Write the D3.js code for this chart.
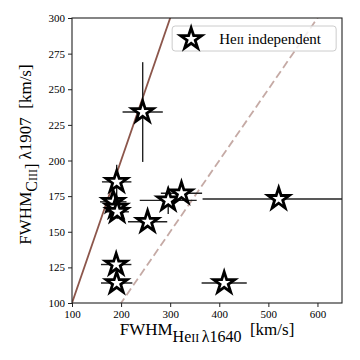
<!DOCTYPE html>
<html>
<head>
<meta charset="utf-8">
<script src="https://cdn.jsdelivr.net/npm/d3@7"></script>
<style>
body{margin:0;background:#fff;}
svg text{font-family:"Liberation Serif","DejaVu Serif",serif;fill:#000;}
</style>
</head>
<body>
<div id="chart"></div>
<script>
// FWHM He II vs C III] measurements
var fwhmHe   = [244, 191, 184, 190, 192, 254, 296, 323, 521, 190, 191, 410];
var fwhmHeEr = [41, 30, 27, 25, 24, 40, 58, 42, 155, 31, 32, 46];
var fwhmC    = [234, 185, 171, 167, 164, 157, 172, 177, 173, 127, 114, 114];
var fwhmCEr  = [35, 12, 5, 6, 5, 3, 9.5, 4, 3, 2, 2, 2];

var xTicks = [100, 200, 300, 400, 500, 600];
var yTicks = [100, 125, 150, 175, 200, 225, 250, 275, 300];

var serif = '"Liberation Serif","DejaVu Serif",serif';

var m = {t:18, r:18, b:57, l:72},
    W = 360, H = 360,
    w = W - m.l - m.r,
    h = H - m.t - m.b;

var svg = d3.select('#chart').append('svg')
    .attr('width', W).attr('height', H);

var x = d3.scaleLinear().domain([100, 650]).range([0, w]);
var y = d3.scaleLinear().domain([100, 300]).range([h, 0]);

var plot = svg.append('g')
    .attr('transform', 'translate(' + m.l + ',' + m.t + ')');

svg.append('defs').append('clipPath').attr('id', 'clip')
    .append('rect').attr('width', w).attr('height', h);

var inner = plot.append('g').attr('clip-path', 'url(#clip)');

// 1:1 and 1:2 lines
var lineX = [100, 650];
var line = d3.line().x(function(d){ return x(d[0]); }).y(function(d){ return y(d[1]); });

inner.append('path')
    .datum(lineX.map(function(v){ return [v, v]; }))
    .attr('d', line)
    .attr('fill', 'none').attr('stroke', '#8c564b').attr('stroke-width', 1.8);

inner.append('path')
    .datum(lineX.map(function(v){ return [v, v / 2]; }))
    .attr('d', line)
    .attr('fill', 'none').attr('stroke', '#8c564b').attr('stroke-opacity', 0.5)
    .attr('stroke-width', 1.8).attr('stroke-dasharray', '8,4');

var pts = fwhmHe.map(function(v, i){
    return {x: v, xe: fwhmHeEr[i], y: fwhmC[i], ye: fwhmCEr[i]};
});

// error bars
inner.selectAll('.xerr').data(pts).enter().append('line').attr('class', 'xerr')
    .attr('x1', function(d){ return x(d.x - d.xe); })
    .attr('x2', function(d){ return x(d.x + d.xe); })
    .attr('y1', function(d){ return y(d.y); })
    .attr('y2', function(d){ return y(d.y); })
    .attr('stroke', '#222').attr('stroke-width', 1.4);

inner.selectAll('.yerr').data(pts).enter().append('line').attr('class', 'yerr')
    .attr('x1', function(d){ return x(d.x); })
    .attr('x2', function(d){ return x(d.x); })
    .attr('y1', function(d){ return y(d.y - d.ye); })
    .attr('y2', function(d){ return y(d.y + d.ye); })
    .attr('stroke', '#222').attr('stroke-width', 1.4);

var star = d3.symbol().type(d3.symbolStar).size(140);

inner.selectAll('.star').data(pts).enter().append('path').attr('class', 'star')
    .attr('d', star)
    .attr('transform', function(d){ return 'translate(' + x(d.x) + ',' + y(d.y) + ')'; })
    .attr('fill', '#fff').attr('stroke', '#000').attr('stroke-width', 2.8)
    .attr('stroke-linejoin', 'miter');

// axes
var xAxis = plot.append('g').attr('transform', 'translate(0,' + h + ')')
    .call(d3.axisBottom(x).tickValues(xTicks).tickSize(4).tickPadding(3));
var yAxis = plot.append('g')
    .call(d3.axisLeft(y).tickValues(yTicks).tickSize(4).tickPadding(3));

[xAxis, yAxis].forEach(function(a){
    a.attr('font-family', serif);
    a.select('.domain').remove();
    a.selectAll('line').attr('stroke', '#222');
    a.selectAll('text').style('font-family', serif)
        .style('font-size', '11px').attr('fill', '#000');
});

plot.append('rect').attr('width', w).attr('height', h)
    .attr('fill', 'none').attr('stroke', '#222').attr('stroke-width', 1.1);

// legend
var leg = plot.append('g');
leg.append('rect')
    .attr('x', x(304)).attr('y', 8).attr('width', 164).attr('height', 25)
    .attr('rx', 3).attr('fill', '#fff').attr('fill-opacity', 0.8)
    .attr('stroke', '#ccc').attr('stroke-width', 1);
leg.append('path').attr('d', star)
    .attr('transform', 'translate(' + (x(304) + 19) + ',21)')
    .attr('fill', '#fff').attr('stroke', '#000').attr('stroke-width', 2.8);
var lt = leg.append('text').attr('x', x(304) + 47).attr('y', 25.5)
    .style('font-family', serif).style('font-size', '15px');
lt.append('tspan').text('He');
lt.append('tspan').style('font-size', '11px').text('II');
lt.append('tspan').text(' independent');

// axis labels
var xl = svg.append('text')
    .attr('x', m.l + w / 2).attr('y', 335)
    .attr('text-anchor', 'middle').style('font-family', serif).style('font-size', '17px');
xl.append('tspan').text('FWHM');
xl.append('tspan').attr('dy', 7).style('font-size', '16px').text('He');
xl.append('tspan').style('font-size', '12px').text('II\u2009');
xl.append('tspan').style('font-size', '16px').text('\u03bb1640');
xl.append('tspan').attr('dy', -7).text('\u2002[km/s]');

var yl = svg.append('text')
    .attr('transform', 'translate(31,' + (m.t + h / 2 - 6) + ') rotate(-90)')
    .attr('text-anchor', 'middle').style('font-family', serif).style('font-size', '17px');
yl.append('tspan').text('FWHM');
yl.append('tspan').attr('dy', 6).style('font-size', '16px').text('C');
yl.append('tspan').style('font-size', '12px').text('III');
yl.append('tspan').style('font-size', '16px').text(']');
yl.append('tspan').attr('dy', -6).text(' \u03bb1907\u2002[km/s]');
</script>
</body>
</html>
